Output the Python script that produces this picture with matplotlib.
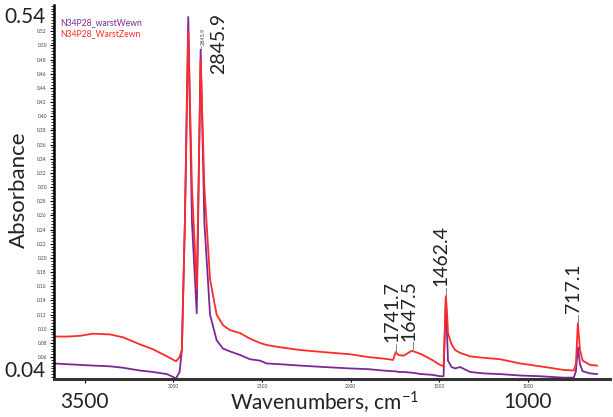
import numpy as np
import matplotlib.pyplot as plt
import matplotlib.transforms as mtransforms
from matplotlib.ticker import MultipleLocator, FixedLocator

plt.rcParams['font.family'] = ['Lato', 'DejaVu Sans']
plt.rcParams['mathtext.default'] = 'regular'

# wavenumbers (cm-1) shared by both spectra
wn = [3674, 3600, 3527, 3454, 3358, 3285, 3189, 3115, 3036, 2985, 2965, 2952,
      2935, 2916, 2895, 2868, 2846, 2825, 2793, 2756, 2720, 2680, 2624, 2568,
      2511, 2473, 2400, 2285, 2150, 2003, 1900, 1817, 1760, 1745, 1730, 1700,
      1654, 1600, 1540, 1495, 1475, 1462, 1455, 1450, 1430, 1410, 1382, 1325,
      1250, 1156, 1043, 930, 800, 740, 728, 717, 705, 690, 648, 609]

# N34P28_warstWewn (purple)
abs_wewn = [0.051, 0.050, 0.049, 0.048, 0.047, 0.045, 0.041, 0.039, 0.036, 0.030, 0.039, 0.070,
            0.250, 0.540, 0.250, 0.122, 0.494, 0.250, 0.120, 0.084, 0.072, 0.068, 0.063, 0.057,
            0.055, 0.051, 0.050, 0.048, 0.046, 0.044, 0.043, 0.041, 0.040, 0.040, 0.039, 0.039,
            0.038, 0.036, 0.035, 0.033, 0.033, 0.145, 0.090, 0.055, 0.046, 0.044, 0.046, 0.039,
            0.037, 0.036, 0.034, 0.033, 0.031, 0.031, 0.040, 0.074, 0.050, 0.040, 0.037, 0.036]

# N34P28_WarstZewn (red)
abs_zewn = [0.089, 0.089, 0.090, 0.093, 0.092, 0.088, 0.078, 0.071, 0.061, 0.054, 0.060, 0.070,
            0.250, 0.520, 0.300, 0.155, 0.480, 0.300, 0.170, 0.120, 0.105, 0.098, 0.094, 0.086,
            0.080, 0.077, 0.074, 0.070, 0.067, 0.064, 0.060, 0.058, 0.056, 0.067, 0.063, 0.062,
            0.069, 0.064, 0.056, 0.049, 0.047, 0.146, 0.120, 0.094, 0.078, 0.070, 0.066, 0.061,
            0.059, 0.057, 0.051, 0.047, 0.042, 0.041, 0.050, 0.108, 0.070, 0.055, 0.049, 0.048]

# peak labels: (position, label, peak height)
peaks = [(1741.7, '1741.7', 0.067), (1647.5, '1647.5', 0.069),
         (1462.4, '1462.4', 0.146), (717.1, '717.1', 0.108)]

fig = plt.figure(figsize=(6.13, 4.17), dpi=100)
ax = fig.add_axes([0.088, 0.091, 0.907, 0.897])

ax.plot(wn, abs_wewn, color='#7b2896', lw=1.3, label='N34P28_warstWewn')
ax.plot(wn, abs_zewn, color='#ff2a2a', lw=1.3, label='N34P28_WarstZewn')

ax.set_xlim(3674, 536)
ax.set_ylim(0.029, 0.557)

for s in ['top', 'right']:
    ax.spines[s].set_visible(False)
ax.spines['left'].set_linewidth(1.8)
ax.spines['bottom'].set_linewidth(2.2)
ax.spines['bottom'].set_color('#333333')

# y ticks: tiny labels every 0.02, big labels for 0.04 and 0.54
yt = np.round(np.arange(0.06, 0.53, 0.02), 2)
ax.set_yticks(yt)
ax.set_yticklabels([f'{v:.2f}' for v in yt], fontsize=3.5, color='#444444')
ax.yaxis.set_minor_locator(MultipleLocator(0.004))
ax.tick_params(axis='y', which='major', length=3, width=0.8, pad=2)
ax.tick_params(axis='y', which='minor', length=2, width=0.6)

# x ticks: tiny labels
xt = [3000, 2500, 2000, 1500, 1000]
ax.xaxis.set_major_locator(FixedLocator(xt))
ax.set_xticklabels([str(v) for v in xt], fontsize=3.5, color='#444444')
ax.xaxis.set_minor_locator(FixedLocator([3500]))
ax.tick_params(axis='x', which='major', length=2.5, width=0.8, pad=1)
ax.tick_params(axis='x', which='minor', length=3, width=0.8)

ty = mtransforms.blended_transform_factory(ax.transAxes, ax.transData)
tx = mtransforms.blended_transform_factory(ax.transData, ax.transAxes)
ax.text(-0.015, 0.54, '0.54', transform=ty, ha='right', va='center', fontsize=15, color='#222222')
ax.text(-0.015, 0.04, '0.04', transform=ty, ha='right', va='center', fontsize=15, color='#222222')
ax.text(3500, -0.035, '3500', transform=tx, ha='center', va='top', fontsize=15, color='#222222')
ax.text(1000, -0.035, '1000', transform=tx, ha='center', va='top', fontsize=15, color='#222222')

ax.set_ylabel('Absorbance', fontsize=16, color='#222222')
ax.yaxis.set_label_coords(-0.045, 0.505)
ax.set_xlabel('Wavenumbers, cm$^{-1}$', fontsize=15, color='#222222')
ax.xaxis.set_label_coords(0.487, -0.03)

# peak annotations
for pos, lab, h in peaks:
    ax.plot([pos, pos], [h, h + 0.012], color='#888888', lw=0.7)
    ax.text(pos + 25, h + 0.014, lab, rotation=90, ha='center', va='bottom',
            fontsize=14, color='#222222')

ax.plot([2845.9, 2845.9], [0.494, 0.499], color='#888888', lw=0.6)
ax.text(2830, 0.500, '2845.9', rotation=90, ha='center', va='bottom', fontsize=4, color='#444444')
ax.text(2742, 0.459, '2845.9', rotation=90, ha='center', va='bottom', fontsize=14, color='#222222')

ax.legend(loc='upper left', bbox_to_anchor=(0.0, 0.98), frameon=False, handlelength=0,
          handletextpad=0, labelcolor='linecolor', fontsize=6.2, borderpad=0.2, labelspacing=0.2)

fig.savefig('out.png', dpi=100)
